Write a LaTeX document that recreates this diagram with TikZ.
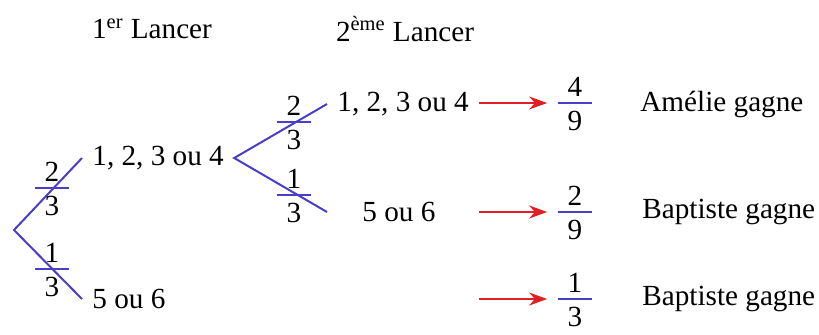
\documentclass[tikz,border=0pt]{standalone}
\usepackage{fontspec}
\setmainfont{Liberation Serif}
\usepackage{tikz}
\usetikzlibrary{positioning,arrows.meta}
\definecolor{treeblue}{RGB}{72,62,200}
\definecolor{arrowred}{RGB}{225,30,35}

\begin{document}
\begin{tikzpicture}[
x=0.5pt,y=-0.5pt,
font=\fontsize{14.6}{17}\selectfont,
outcome/.style={inner sep=5pt},
digit/.style={inner sep=0pt},
branch/.style={draw=treeblue,line width=1pt},
bar/.style={draw=treeblue,line width=0.75pt},
result/.style={draw=arrowred,line width=1pt,shorten >=5.5pt,-{Stealth[length=9pt,width=6.5pt]}}
]
\useasboundingbox (0,0) rectangle (819,334);

\node (h1) at (152,29) {1\textsuperscript{er} Lancer};
\node (h2) at (405,29) {2\textsuperscript{ème} Lancer};

\coordinate (r0) at (14,230);
\node[outcome,anchor=west] (a1) at (82,158) {1, 2, 3 ou 4};
\node[outcome,anchor=west] (b1) at (82,299) {5 ou 6};
\node[outcome,anchor=west] (a2) at (327,104) {1, 2, 3 ou 4};
\node[outcome,anchor=west] (b2) at (352,212) {5 ou 6};

% fractions: bar node, numerator, denominator
\foreach \n/\x/\y/\a/\b in {f1/52/188/2/3, f2/52/269/1/3, f3/294/122/2/3, f4/294/195/1/3, p1/575/103/4/9, p2/575/212/2/9, p3/575/299/1/3}{
  \node[digit,minimum width=16.5pt] (\n) at (\x,\y) {};
  \draw[bar] (\n.west) -- (\n.east);
  \node[digit,anchor=base] (\n-num) at ([yshift=3.5pt]\n) {\a};
  \node[digit,anchor=north] (\n-den) at ([yshift=-4pt]\n) {\b};
}

\draw[branch] (a1.west) -- (r0) -- (b1.west);
\draw[branch] (a2.west) -- (a1.east) -- (b2.west -| a2.west);

\draw[result] (a2.east |- p1) -- (p1.west);
\draw[result] (a2.east |- p2) -- (p2.west);
\draw[result] (a2.east |- p3) -- (p3.west);

\node[outcome,anchor=west] (w1) at (630,104) {Amélie gagne};
\node[outcome,anchor=west] (w2) at (632,212) {Baptiste gagne};
\node[outcome,anchor=west] (w3) at (632,299) {Baptiste gagne};
\end{tikzpicture}
\end{document}
